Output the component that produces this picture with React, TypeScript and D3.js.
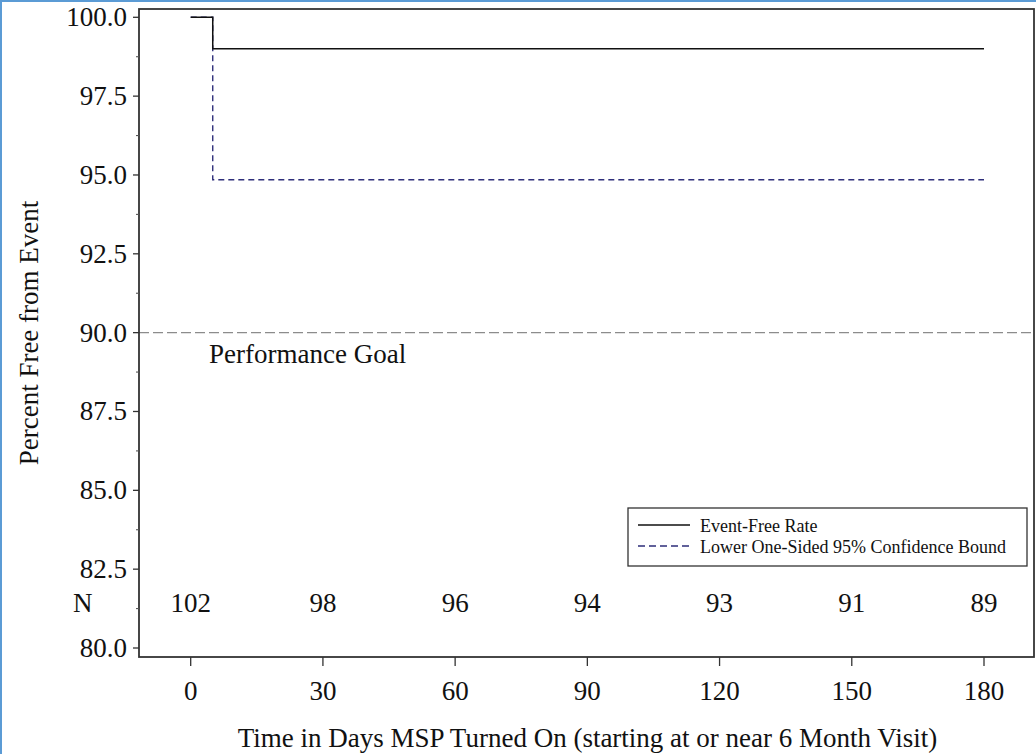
import React from "react";
import * as d3 from "d3";

// ---- data ----
const xTicks = [0, 30, 60, 90, 120, 150, 180];
const yTicks = [80, 82.5, 85, 87.5, 90, 92.5, 95, 97.5, 100];
const yMinorTicks = [81.25, 83.75, 86.25, 88.75, 91.25, 93.75, 96.25, 98.75];
const atRiskDays = [0, 30, 60, 90, 120, 150, 180];
const atRiskN = [102, 98, 96, 94, 93, 91, 89];
const eventFreeDays = [0, 5, 180];
const eventFreeRate = [100, 99.0, 99.0];
const lowerBoundDays = [0, 5, 180];
const lowerBound = [100, 94.85, 94.85];
const performanceGoal = 90;
const legendLabels = ["Event-Free Rate", "Lower One-Sided 95% Confidence Bound"];
const yTitle = "Percent Free from Event";
const xTitle = "Time in Days MSP Turned On (starting at or near 6 Month Visit)";

const W = 1036;
const H = 754;
const FRAME = { left: 139, right: 1034, top: 9, bottom: 657 };
const FONT = "Liberation Serif, DejaVu Serif, serif";
const TS: React.CSSProperties = { fontFamily: FONT };

export default function App() {
  const x = d3.scaleLinear().domain([0, 180]).range([190.7, 984]);
  const y = d3.scaleLinear().domain([80, 100]).range([648, 17.3]);

  const line = d3
    .line<[number, number]>()
    .x((d) => x(d[0]))
    .y((d) => y(d[1]))
    .curve(d3.curveStepAfter);

  const efPts: [number, number][] = eventFreeDays.map((d, i) => [d, eventFreeRate[i]]);
  const lbPts: [number, number][] = lowerBoundDays.map((d, i) => [d, lowerBound[i]]);

  const lg = { x: 628, y: 508, w: 399, h: 58 };

  return (
    <svg
      width={W}
      height={H}
      style={{ position: "absolute", left: 0, top: 0, background: "#fff", fontFamily: FONT }}
    >
      <rect x={0} y={0} width={W} height={H} fill="#fff" />
      {/* outer blue border */}
      <line x1={0} y1={1} x2={W} y2={1} stroke="#5b9bd5" strokeWidth={2} />
      <line x1={1} y1={0} x2={1} y2={H} stroke="#5b9bd5" strokeWidth={2} />

      {/* performance goal reference line */}
      <line
        x1={FRAME.left}
        x2={FRAME.right}
        y1={y(performanceGoal)}
        y2={y(performanceGoal)}
        stroke="#8c8c8c"
        strokeWidth={1.3}
        strokeDasharray="10,4"
      />
      <text x={209} y={363} fontSize={27} fill="#111" style={TS}>
        Performance Goal
      </text>

      {/* lower bound (dashed) then event-free (solid) */}
      <path
        d={line(lbPts) || ""}
        fill="none"
        stroke="#2e2e7a"
        strokeWidth={1.4}
        strokeDasharray="6,4"
      />
      <path d={line(efPts) || ""} fill="none" stroke="#111" strokeWidth={1.5} />

      {/* frame */}
      <rect
        x={FRAME.left}
        y={FRAME.top}
        width={FRAME.right - FRAME.left}
        height={FRAME.bottom - FRAME.top}
        fill="none"
        stroke="#333"
        strokeWidth={1.8}
      />

      {/* y axis ticks */}
      {yTicks.map((t) => (
        <g key={"y" + t}>
          <line x1={FRAME.left - 6} x2={FRAME.left} y1={y(t)} y2={y(t)} stroke="#333" strokeWidth={1.3} />
          <text x={127} y={y(t) + 9} fontSize={27} textAnchor="end" fill="#111" style={TS}>
            {d3.format(".1f")(t)}
          </text>
        </g>
      ))}
      {yMinorTicks.map((t) => (
        <line key={"ym" + t} x1={FRAME.left - 3} x2={FRAME.left} y1={y(t)} y2={y(t)} stroke="#555" strokeWidth={1.1} />
      ))}

      {/* x axis ticks */}
      {xTicks.map((t) => (
        <g key={"x" + t}>
          <line x1={x(t)} x2={x(t)} y1={FRAME.bottom} y2={FRAME.bottom + 9} stroke="#333" strokeWidth={1.3} />
          <text x={x(t)} y={700} fontSize={27} textAnchor="middle" fill="#111" style={TS}>
            {t}
          </text>
        </g>
      ))}

      {/* at-risk row */}
      <text x={73} y={612} fontSize={27} fill="#111" style={TS}>
        N
      </text>
      {atRiskDays.map((d, i) => (
        <text key={"n" + d} x={x(d)} y={612} fontSize={27} textAnchor="middle" fill="#111" style={TS}>
          {atRiskN[i]}
        </text>
      ))}

      {/* legend */}
      <rect x={lg.x} y={lg.y} width={lg.w} height={lg.h} fill="#fff" stroke="#333" strokeWidth={1.3} />
      <line x1={638} x2={690} y1={525} y2={525} stroke="#111" strokeWidth={1.4} />
      <line x1={638} x2={692} y1={546} y2={546} stroke="#2e2e7a" strokeWidth={1.4} strokeDasharray="7,4" />
      <text x={700} y={532} fontSize={18} fill="#111" style={TS}>
        {legendLabels[0]}
      </text>
      <text x={700} y={553} fontSize={18} fill="#111" style={TS}>
        {legendLabels[1]}
      </text>

      {/* titles */}
      <text
        transform={`translate(38, ${(FRAME.top + FRAME.bottom) / 2}) rotate(-90)`}
        fontSize={27}
        textAnchor="middle"
        fill="#111"
        style={TS}
      >
        {yTitle}
      </text>
      <text x={(FRAME.left + FRAME.right) / 2 + 1} y={747} fontSize={27} textAnchor="middle" fill="#111" style={TS}>
        {xTitle}
      </text>
    </svg>
  );
}
